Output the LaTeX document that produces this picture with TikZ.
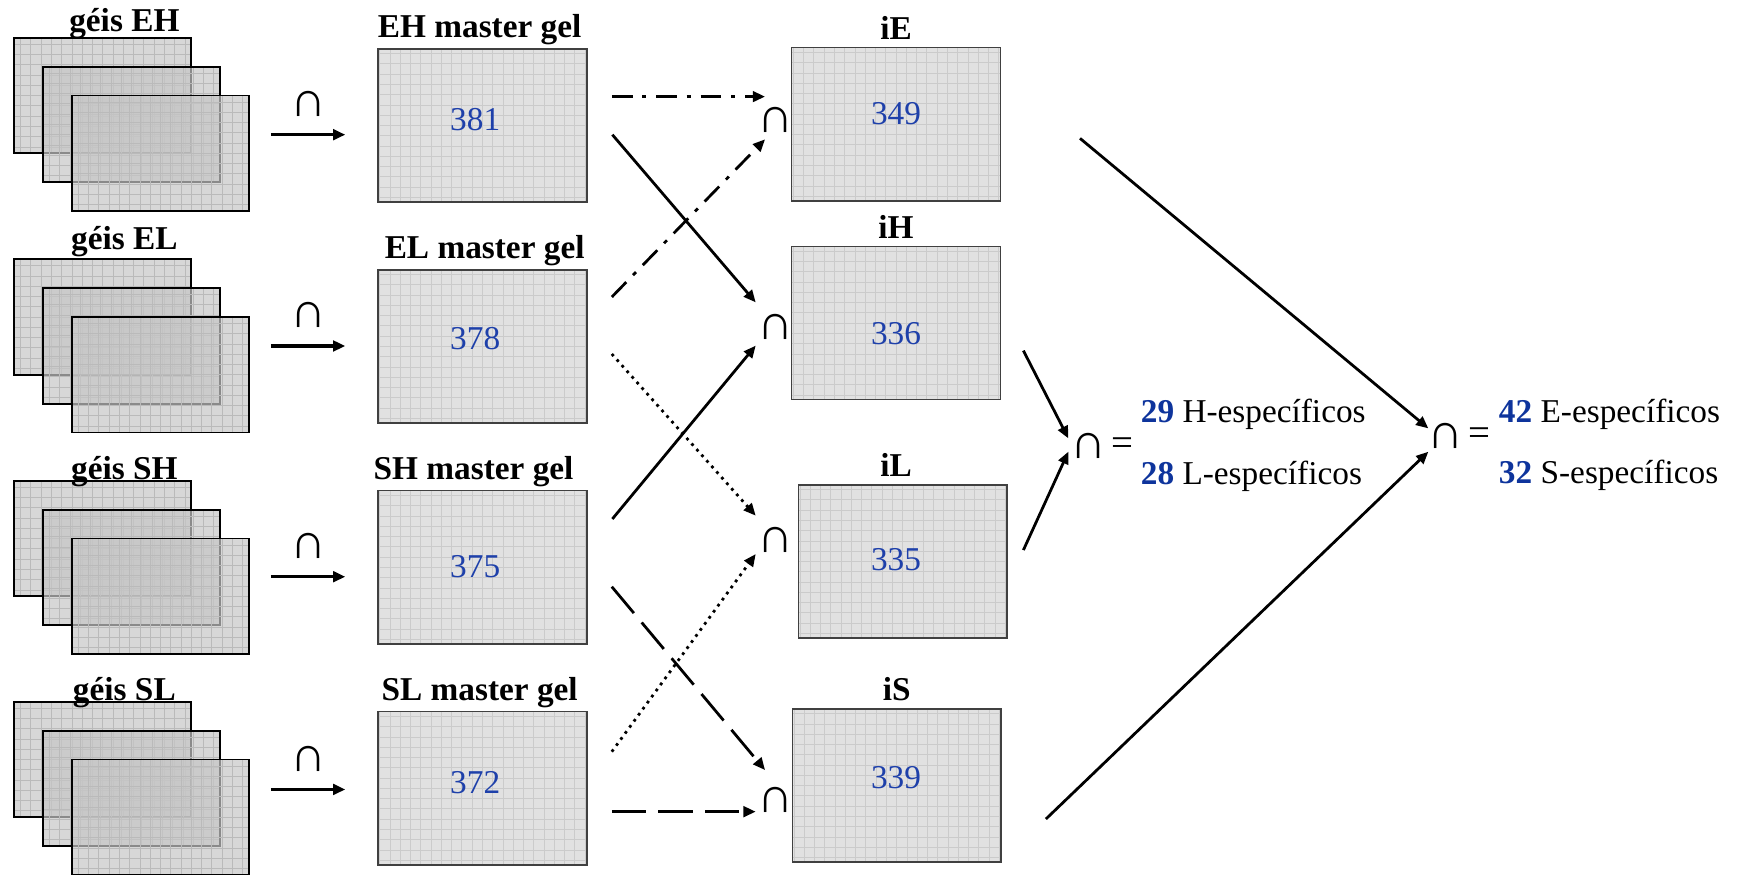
\documentclass[12pt,tikz,border=0pt]{standalone}
\usepackage{fontspec}
\setmainfont{Liberation Serif}
\usetikzlibrary{arrows.meta,positioning}
\definecolor{numblue}{RGB}{30,64,170}
\definecolor{boldblue}{RGB}{14,52,156}
\definecolor{gelfill}{RGB}{225,225,225}
\definecolor{gelgrid}{RGB}{203,203,203}
\definecolor{sheetfill}{RGB}{198,198,198}
\definecolor{sheetgrid}{RGB}{186,186,186}
\newcommand{\spnum}[1]{\textcolor{boldblue}{\textbf{#1}}}

\begin{document}
\begin{tikzpicture}[x=0.4pt,y=-0.4pt,>={Triangle[length=4.4pt,width=3.8pt]},
  gel/.style={draw=black!75,line width=0.5pt,fill=gelfill,inner sep=0pt,
    minimum width=75.2pt,minimum height=55.2pt,
    path picture={\draw[gelgrid,line width=0.3pt,step=3.7pt]
      (path picture bounding box.south west) grid (path picture bounding box.north east);}},
  sheet/.style={draw=black,line width=0.7pt,fill=sheetfill,fill opacity=0.7,inner sep=0pt,
    minimum width=63.6pt,minimum height=41.6pt,
    path picture={\draw[sheetgrid,line width=0.25pt,step=3.7pt]
      (path picture bounding box.south west) grid (path picture bounding box.north east);}},
  gelname/.style={font=\bfseries,inner sep=1pt},
  num/.style={text=numblue},
  result/.style={anchor=base west,inner sep=0pt},
  capsym/.style={font=\fontsize{18}{18}\selectfont,inner sep=1pt},
  eqsym/.style={font=\fontsize{14}{14}\selectfont,inner sep=1pt},
  merge/.style={->,line width=1.2pt},
  plain/.style={->,line width=1pt},
  mixdash/.style={plain,dash pattern=on 7.5pt off 3.5pt on 1.5pt off 3.5pt},
  dotline/.style={plain,dash pattern=on 1pt off 1.7pt},
  longdash/.style={plain,dash pattern=on 12.4pt off 4.4pt}]
\clip (0,0) rectangle (1568,788);

\node[sheet] (eh1) at (92.5,86) {}; \node[sheet] (eh2) at (118.5,112) {}; \node[sheet] (eh3) at (144.5,138) {};
\node[gelname,anchor=base] (geh) at (112,28.5) {géis EH};
\node[sheet] (el1) at (92.5,285.5) {}; \node[sheet] (el2) at (118.5,311.5) {}; \node[sheet] (el3) at (144.5,337.5) {};
\node[gelname,anchor=base] (gel) at (112,225) {géis EL};
\node[sheet] (sh1) at (92.5,485) {}; \node[sheet] (sh2) at (118.5,511) {}; \node[sheet] (sh3) at (144.5,537) {};
\node[gelname,anchor=base] (gsh) at (112,431.7) {géis SH};
\node[sheet] (sl1) at (92.5,684) {}; \node[sheet] (sl2) at (118.5,710) {}; \node[sheet] (sl3) at (144.5,736) {};
\node[gelname,anchor=base] (gsl) at (112,630.5) {géis SL};

\coordinate (a1) at (244,121.3); \coordinate (b1) at (311,121.3);
\coordinate (a2) at (244,311.6); \coordinate (b2) at (311,311.6);
\coordinate (a3) at (244,519.4); \coordinate (b3) at (311,519.4);
\coordinate (a4) at (244,711); \coordinate (b4) at (311,711);
\draw[merge] (a1) -- node[capsym,above=5pt] (c1) {∩} (b1);
\draw[merge] (a2) -- node[capsym,above=5pt] (c2) {∩} (b2);
\draw[merge] (a3) -- node[capsym,above=5pt] (c3) {∩} (b3);
\draw[merge] (a4) -- node[capsym,above=5pt] (c4) {∩} (b4);

\node[gel] (mEH) at (434.5,113) {};
\node[gelname,above=0pt of mEH,xshift=-1pt] (tEH) {EH master gel};
\node[num] (n381) at (428,108) {381};
\node[gel] (mEL) at (434.5,312) {};
\node[gelname,above=0pt of mEL,xshift=0.8pt] (tEL) {EL master gel};
\node[num] (n378) at (428,305) {378};
\node[gel] (mSH) at (434.5,511) {};
\node[gelname,above=0pt of mSH,xshift=-3.2pt] (tSH) {SH master gel};
\node[num] (n375) at (428,510) {375};
\node[gel] (mSL) at (434.5,710) {};
\node[gelname,above=0pt of mSL,xshift=-1pt] (tSL) {SL master gel};
\node[num] (n372) at (428,705) {372};

\node[gel] (iE) at (807,112) {};
\node[gelname,above=1.5pt of iE] (tiE) {iE};
\node[num] (n349) at (807,102.7) {349};
\node[gel] (iH) at (807,291) {};
\node[gelname,above=1.5pt of iH] (tiH) {iH};
\node[num] (n336) at (807,300.6) {336};
\node[gel] (iL) at (813,505.7) {};
\node[gelname,above=1.5pt of iL,xshift=-2.4pt] (tiL) {iL};
\node[num] (n335) at (807,504) {335};
\node[gel] (iS) at (807.6,707.5) {};
\node[gelname,above=1.5pt of iS] (tiS) {iS};
\node[num] (n339) at (807,700) {339};

\node[capsym] (cE) at (698.8,107.8) {∩};
\node[capsym] (cH) at (698.8,294.8) {∩};
\node[capsym] (cL) at (698.8,486) {∩};
\node[capsym] (cS) at (698.8,720) {∩};

\coordinate (oEH1) at (551,87);      \coordinate (toE1) at (689,87);
\coordinate (oEL1) at (551,267.5);   \coordinate (toE2) at (689,125.5);
\coordinate (oEH2) at (551.5,121.3); \coordinate (toH1) at (680.6,272.3);
\coordinate (oSH1) at (551.5,467.4); \coordinate (toH2) at (680.6,311.3);
\coordinate (oEL2) at (551,318.8);   \coordinate (toL1) at (680.6,464.4);
\coordinate (oSL1) at (551,677);     \coordinate (toL2) at (680.6,499);
\coordinate (oSH2) at (551,528.4);   \coordinate (toS1) at (689,693.5);
\coordinate (oSL2) at (551,731);     \coordinate (toS2) at (680.6,731);
\draw[mixdash] (oEH1) -- (toE1); \draw[mixdash] (oEL1) -- (toE2);
\draw[plain] (oEH2) -- (toH1);   \draw[plain] (oSH1) -- (toH2);
\draw[dotline] (oEL2) -- (toL1); \draw[dotline] (oSL1) -- (toL2);
\draw[longdash] (oSH2) -- (toS1); \draw[longdash] (oSL2) -- (toS2);

\node[capsym] (cHL) at (980.3,402) {∩};
\node[eqsym] (eqHL) at (1010.5,402) {=};
\node[result] (t29) at (1027,380.7) {\spnum{29} H-específicos};
\node[result] (t28) at (1027,436) {\spnum{28} L-específicos};
\node[capsym] (cES) at (1302,393) {∩};
\node[eqsym] (eqES) at (1332,393) {=};
\node[result] (t42) at (1349.5,380.7) {\spnum{42} E-específicos};
\node[result] (t32) at (1349.5,435.3) {\spnum{32} S-específicos};

\coordinate (oH) at (921.7,315.8); \coordinate (toHL1) at (962.2,394.8);
\coordinate (oL) at (921.7,495.4); \coordinate (toHL2) at (962.2,406.8);
\coordinate (oE) at (972.7,124.6); \coordinate (toES1) at (1286.4,385.8);
\coordinate (oS) at (942,737.6);   \coordinate (toES2) at (1286.4,406.8);
\draw[plain] (oH) -- (toHL1); \draw[plain] (oL) -- (toHL2);
\draw[plain] (oE) -- (toES1); \draw[plain] (oS) -- (toES2);
\end{tikzpicture}
\end{document}
